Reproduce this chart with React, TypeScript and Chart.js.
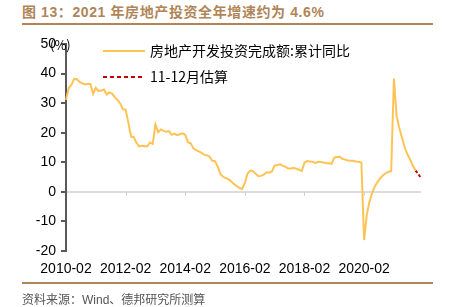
import React, { useEffect, useRef } from "react";
import { Chart, registerables } from "chart.js";

Chart.register(...registerables);

const years = [2010, 2011, 2012, 2013, 2014, 2015, 2016, 2017, 2018, 2019, 2020, 2021];
const months = ["02", "03", "04", "05", "06", "07", "08", "09", "10", "11", "12"];
const categories: string[] = years.flatMap((y) => months.map((m) => `${y}-${m}`));

// 房地产开发投资完成额:累计同比 (%), 2010-02 .. 2021-10
const investActual: number[] = [
  31.1, 35.1, 36.2, 38.2, 38.1, 37.2, 36.7, 36.4, 36.5, 36.5, 33.2,
  35.2, 34.1, 34.3, 34.6, 32.9, 33.6, 33.2, 32.0, 31.1, 29.9, 27.9,
  27.8, 23.5, 18.7, 18.5, 16.6, 15.4, 15.6, 15.4, 15.4, 16.7, 16.2,
  22.8, 20.2, 21.1, 20.6, 20.3, 20.5, 19.3, 19.7, 19.2, 19.5, 19.8,
  19.3, 16.8, 16.4, 14.7, 14.1, 13.7, 13.2, 12.5, 12.4, 11.9, 10.5,
  10.4, 8.5, 6.0, 5.1, 4.6, 4.3, 3.5, 2.6, 2.0, 1.3, 1.0,
  3.0, 6.2, 7.2, 7.0, 6.1, 5.3, 5.4, 5.8, 6.6, 6.5, 6.9,
  8.9, 9.1, 9.3, 8.8, 8.5, 7.9, 7.9, 8.1, 7.8, 7.5, 7.0,
  9.9, 10.4, 10.3, 10.2, 9.7, 10.2, 10.1, 9.9, 9.7, 9.7, 9.5,
  11.6, 11.8, 11.9, 11.2, 10.9, 10.6, 10.5, 10.5, 10.3, 10.2, 9.9,
  -16.3, -7.7, -3.3, -0.3, 1.9, 3.4, 4.6, 5.6, 6.3, 6.8, 7.0,
  38.3, 25.6, 21.6, 18.3, 15.0, 12.7, 10.9, 8.8, 7.2,
];
// 11-12月估算: 2021-10 .. 2021-12
const estimateValues: number[] = [7.2, 6.0, 4.6];

const yTicks = [-20, -10, 0, 10, 20, 30, 40, 50];
const xTickEvery = 22;

const seriesActual: (number | null)[] = categories.map((_, i) =>
  i < investActual.length ? investActual[i] : null
);
const estStart = categories.length - estimateValues.length;
const seriesEstimate: (number | null)[] = categories.map((_, i) =>
  i >= estStart ? estimateValues[i - estStart] : null
);

const YELLOW = "#FFC355";
const RED = "#C00000";
const BROWN = "#B08558";
const FONT = '"Liberation Sans", Arial, sans-serif';
const CJK = '"Noto Sans CJK SC", sans-serif';

const overlayPlugin = {
  id: "overlay",
  afterDatasetsDraw(chart: any) {
    const ctx = chart.ctx;
    const xs = chart.scales.x;
    const ys = chart.scales.y;
    const y0 = ys.getPixelForValue(0);
    ctx.save();
    ctx.strokeStyle = "#CFCFCF";
    ctx.lineWidth = 1;
    categories.forEach((_, i) => {
      if (i > 0 && i % xTickEvery === 0) {
        const x = Math.round(xs.getPixelForValue(i)) + 0.5;
        ctx.beginPath();
        ctx.moveTo(x, y0);
        ctx.lineTo(x, y0 + 4);
        ctx.stroke();
      }
    });
    ctx.restore();
  },
  afterDraw(chart: any) {
    const ctx = chart.ctx;
    ctx.save();
    // legend
    ctx.lineWidth = 2;
    ctx.strokeStyle = YELLOW;
    ctx.beginPath();
    ctx.moveTo(103, 51);
    ctx.lineTo(145, 51);
    ctx.stroke();
    ctx.strokeStyle = RED;
    ctx.setLineDash([4, 3]);
    ctx.beginPath();
    ctx.moveTo(103, 77);
    ctx.lineTo(145, 77);
    ctx.stroke();
    ctx.setLineDash([]);
    ctx.fillStyle = "#000";
    ctx.textBaseline = "middle";
    ctx.textAlign = "left";
    ctx.font = `14px ${CJK}`;
    ctx.fillText("房地产开发投资完成额:累计同比", 150, 51);
    ctx.fillText("11-12月估算", 150, 77);
    // unit
    ctx.font = `13px ${CJK}`;
    ctx.fillText("(%)", 50, 45);
    ctx.restore();
  },
};

export default function App() {
  const ref = useRef<HTMLCanvasElement | null>(null);

  useEffect(() => {
    if (!ref.current) return;
    const chart = new Chart(ref.current, {
      type: "line",
      data: {
        labels: categories,
        datasets: [
          {
            label: "房地产开发投资完成额:累计同比",
            data: seriesActual,
            borderColor: YELLOW,
            borderWidth: 2,
            pointRadius: 0,
            tension: 0,
            spanGaps: false,
          },
          {
            label: "11-12月估算",
            data: seriesEstimate,
            borderColor: RED,
            borderWidth: 2,
            borderDash: [3, 2],
            pointRadius: 0,
            tension: 0,
          },
        ],
      },
      options: {
        responsive: false,
        animation: false,
        layout: { padding: { top: 44, right: 29, left: 0, bottom: 0 } },
        plugins: {
          legend: { display: false },
          tooltip: { enabled: false },
          title: { display: false },
        },
        scales: {
          x: {
            type: "category",
            grid: { display: false, drawTicks: false },
            border: { display: false },
            ticks: {
              autoSkip: false,
              maxRotation: 0,
              minRotation: 0,
              padding: 10,
              color: "#000",
              font: { size: 14, family: FONT },
              callback: (_v: any, i: number) => (i % xTickEvery === 0 ? categories[i] : ""),
            },
            afterFit: (s: any) => {
              s.height = 56;
            },
          },
          y: {
            min: yTicks[0],
            max: yTicks[yTicks.length - 1],
            afterBuildTicks: (s: any) => {
              s.ticks = yTicks.map((v) => ({ value: v }));
            },
            ticks: {
              color: "#000",
              padding: 5,
              font: { size: 14, family: FONT },
            },
            grid: {
              color: (c: any) => (c.tick && c.tick.value === 0 ? "#DCDCDC" : "rgba(0,0,0,0)"),
              tickColor: "#595959",
              tickLength: 5,
              lineWidth: 2,
            },
            border: { color: "#595959", width: 2 },
            afterFit: (s: any) => {
              s.width = 66;
            },
          },
        },
      },
      plugins: [overlayPlugin],
    });
    return () => chart.destroy();
  }, []);

  return (
    <div
      style={{
        position: "absolute",
        left: 0,
        top: 0,
        width: 450,
        height: 307,
        background: "#fff",
        overflow: "hidden",
      }}
    >
      <div
        style={{
          position: "absolute",
          left: 22,
          top: 3,
          fontFamily: `${FONT.split(",")[0]}, ${CJK}`,
          fontWeight: "bold",
          fontSize: 14,
          lineHeight: "18px",
          color: BROWN,
          whiteSpace: "nowrap",
          letterSpacing: 0.6,
        }}
      >
        图 13：2021 年房地产投资全年增速约为 4.6%
      </div>
      <div style={{ position: "absolute", left: 22, top: 23, width: 411, height: 2, background: BROWN }} />
      <canvas
        ref={ref}
        width={450}
        height={307}
        style={{ position: "absolute", left: 0, top: 0, width: 450, height: 307 }}
      />
      <div style={{ position: "absolute", left: 22, top: 282, width: 411, height: 2, background: BROWN }} />
      <div
        style={{
          position: "absolute",
          left: 22,
          top: 292,
          fontFamily: `${FONT.split(",")[0]}, ${CJK}`,
          fontSize: 12,
          lineHeight: "16px",
          color: "#555",
          whiteSpace: "nowrap",
        }}
      >
        资料来源：Wind、德邦研究所测算
      </div>
    </div>
  );
}
